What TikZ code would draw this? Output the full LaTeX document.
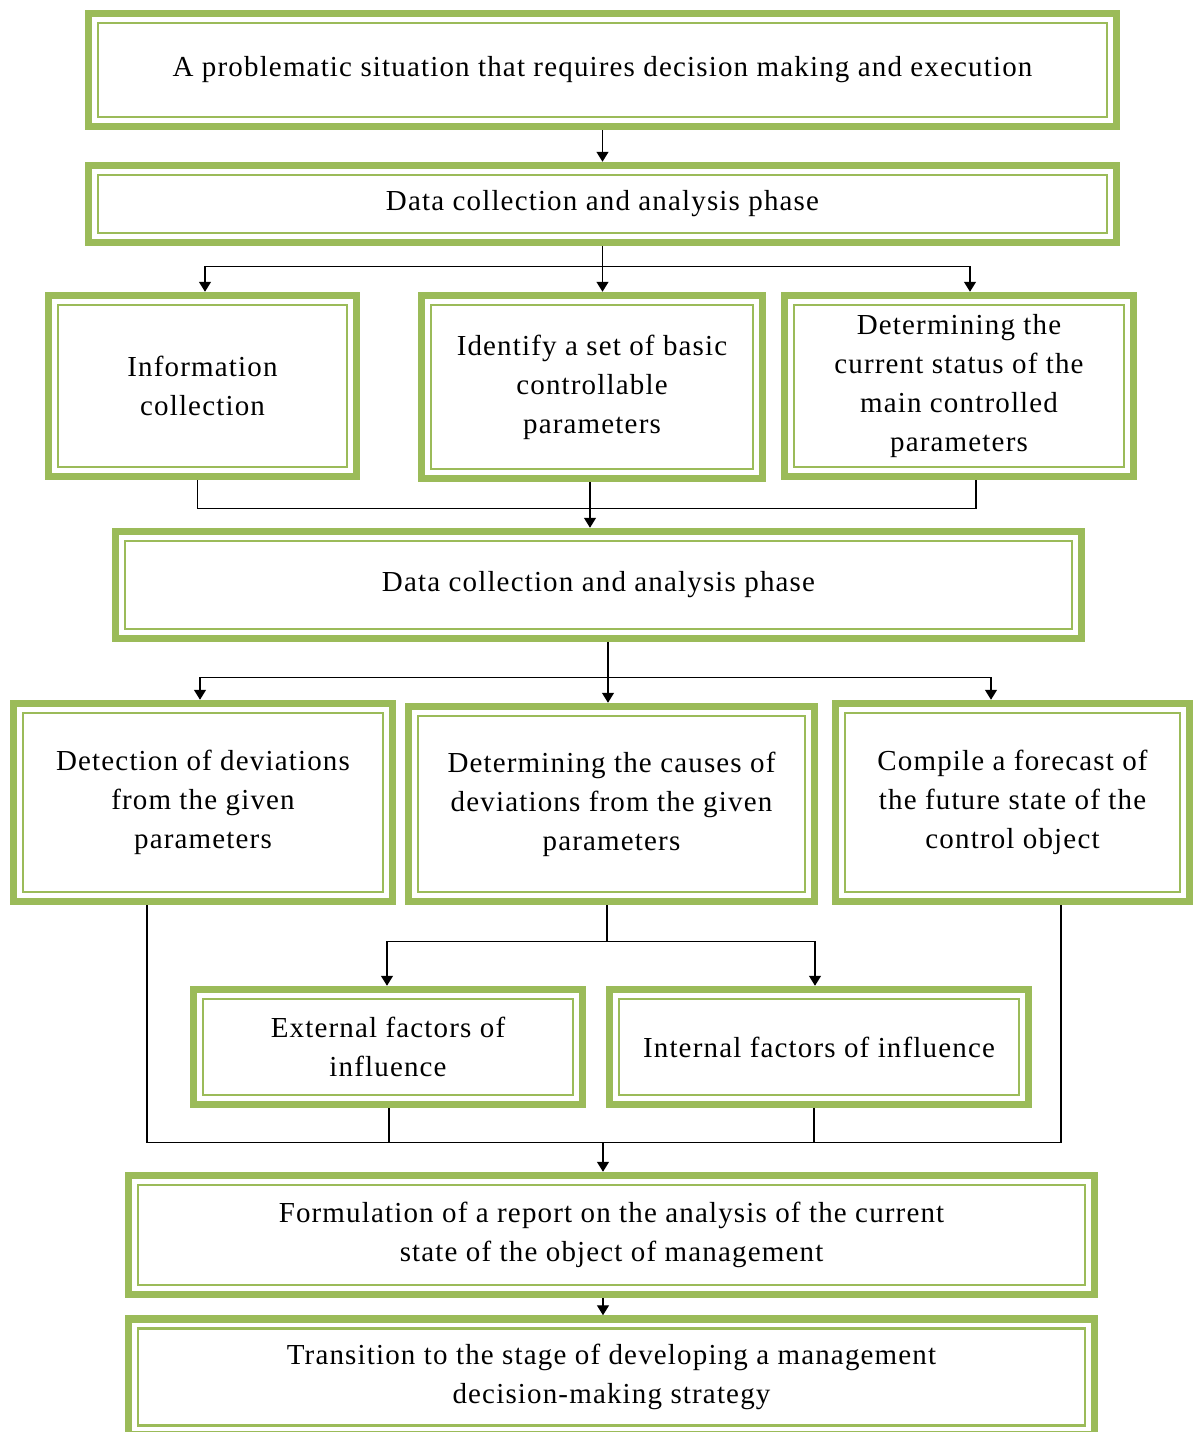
\documentclass[tikz,border=0pt]{standalone}
\usepackage{fontspec}
\setmainfont{Liberation Serif}[LetterSpace=4]
\usetikzlibrary{arrows.meta,calc}
\definecolor{grn}{HTML}{9BBB59}
\begin{document}
\begin{tikzpicture}[x=1pt,y=-1pt,
  gbox/.style={draw=grn, line width=7.5pt, fill=white, align=center, inner sep=0pt,
    font=\fontsize{29}{39}\selectfont,
    path picture={\draw[grn, line width=2.4pt]
      ([shift={(9.5pt,-9.5pt)}]path picture bounding box.north west) rectangle
      ([shift={(-9.5pt,9.5pt)}]path picture bounding box.south east);}},
  ln/.style={draw=black, line width=1.4pt},
  arr/.style={ln, -{Triangle[length=10pt,width=12pt]}}]
\useasboundingbox (0,0) rectangle (1192,1432);
\node[gbox, minimum width=1028pt, minimum height=113pt] (b1) at (602.5,70) {A problematic situation that requires decision making and execution};
\node[gbox, minimum width=1028pt, minimum height=77pt] (b2) at (602.5,204) {Data collection and analysis phase};
\node[gbox, minimum width=308pt, minimum height=181pt] (a) at (202.5,386) {Information\\collection};
\node[gbox, minimum width=341pt, minimum height=183pt] (b) at (592,387) {Identify a set of basic\\controllable\\parameters};
\node[gbox, minimum width=349pt, minimum height=181pt] (c) at (959,386) {Determining the\\current status of the\\main controlled\\parameters};
\node[gbox, minimum width=966pt, minimum height=107pt] (b4) at (598.5,585) {Data collection and analysis phase};
\node[gbox, minimum width=379pt, minimum height=198pt] (d) at (203,802.5) {Detection of deviations\\from the given\\parameters};
\node[gbox, minimum width=406pt, minimum height=195pt] (e) at (611.5,804) {Determining the causes of\\deviations from the given\\parameters};
\node[gbox, minimum width=354pt, minimum height=198pt] (f) at (1012.5,802.5) {Compile a forecast of\\the future state of the\\control object};
\node[gbox, minimum width=389pt, minimum height=115pt] (g) at (388,1047) {External factors of\\influence};
\node[gbox, minimum width=419pt, minimum height=115pt] (h) at (819,1047) {Internal factors of influence};
\node[gbox, minimum width=966pt, minimum height=119pt] (b7) at (611.5,1235) {Formulation of a report on the analysis of the current\\state of the object of management};
\node[gbox, minimum width=966pt, minimum height=116pt] (b8) at (611.5,1377) {Transition to the stage of developing a management\\decision-making strategy};
% connectors
\draw[arr] (b1.south) -- (b2.north);
\coordinate (j1) at ($(b2.south)+(0,20)$);
\draw[arr] (b2.south) -- (b2.south |- b.north);
\draw[arr] (j1) -| ([xshift=2.5pt]a.north);
\draw[arr] (j1) -| ([xshift=11pt]c.north);
\coordinate (j2) at ($(a.south)+(-5,28)$);
\draw[ln] ([xshift=-5pt]a.south) -- (j2) -| ([xshift=17pt]c.south);
\draw[arr] ([xshift=-2pt]b.south) -- ([xshift=-2pt]b.south |- b4.north);
\coordinate (j3) at ($(b4.south)+(9.5,35)$);
\draw[arr] ([xshift=9.5pt]b4.south) -- ([xshift=9.5pt]b4.south |- e.north);
\draw[arr] (j3) -| ([xshift=-3pt]d.north);
\draw[arr] (j3) -| ([xshift=-21.5pt]f.north);
\coordinate (j4) at ($(e.south)+(-4.5,36)$);
\draw[ln] ([xshift=-4.5pt]e.south) -- (j4);
\draw[arr] (j4) -| ([xshift=-1pt]g.north);
\draw[arr] (j4) -| ([xshift=-4pt]h.north);
\coordinate (j5) at ($(d.south)+(-56,237)$);
\draw[ln] ([xshift=-56pt]d.south) -- (j5) -| ([xshift=48.5pt]f.south);
\draw[ln] ([xshift=1pt]g.south) -- ([xshift=1pt]g.south |- j5);
\draw[ln] ([xshift=-5pt]h.south) -- ([xshift=-5pt]h.south |- j5);
\draw[arr] ([xshift=-8.5pt]b7.north |- j5) -- ([xshift=-8.5pt]b7.north);
\draw[arr] ([xshift=-8.5pt]b7.south) -- ([xshift=-8.5pt]b8.north);
\end{tikzpicture}
\end{document}
